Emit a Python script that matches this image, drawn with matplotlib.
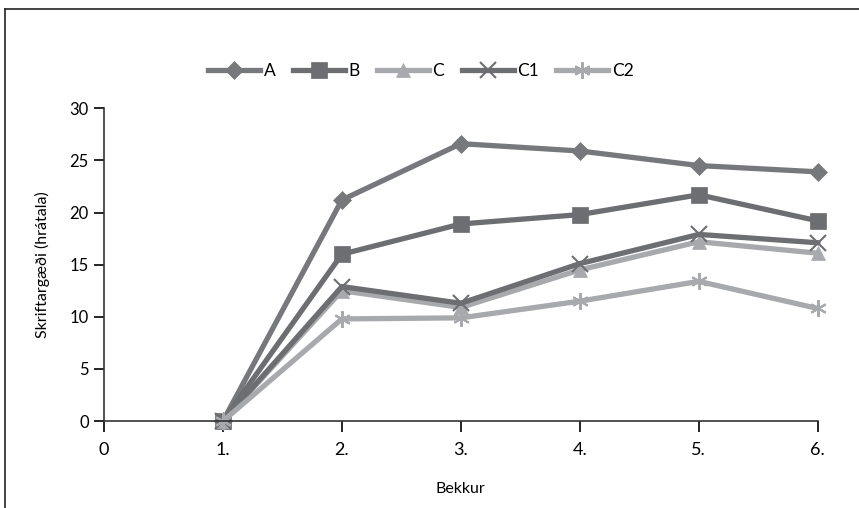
import matplotlib.pyplot as plt
from matplotlib.lines import Line2D

plt.rcParams['font.family'] = ['Lato', 'DejaVu Sans']

bekkur = [1, 2, 3, 4, 5, 6]
tick_labels = ["0", "1.", "2.", "3.", "4.", "5.", "6."]

A = [0, 21.2, 26.6, 25.9, 24.5, 23.9]
B = [0, 16.0, 18.9, 19.8, 21.7, 19.2]
C = [0, 12.5, 10.9, 14.5, 17.2, 16.1]
C1 = [0, 12.9, 11.3, 15.1, 17.9, 17.1]
C2 = [0, 9.8, 9.9, 11.5, 13.4, 10.8]

series = [
    ("A", A, "#77787b", "D", 9),
    ("B", B, "#6d6e71", "s", 11),
    ("C", C, "#a7a9ac", "^", 10),
    ("C1", C1, "#6d6e71", "x", 11),
    ("C2", C2, "#a7a9ac", (6, 2, 0), 12),
]

fig = plt.figure(figsize=(8.59, 5.08), dpi=100)
ax = fig.add_axes([0.121, 0.171, 0.831, 0.616])

for name, vals, col, mk, ms in series:
    ax.plot(bekkur, vals, color=col, lw=3.8, marker=mk, markersize=ms,
            markeredgewidth=1.5 if mk in ("x", (6, 2, 0)) else 0.5,
            markeredgecolor=col, markerfacecolor=col, label=name,
            clip_on=False, solid_joinstyle="round")

ax.set_xlim(0, 6)
ax.set_ylim(0, 30)
ax.set_xticks(range(7))
ax.set_xticklabels(tick_labels)
ax.set_yticks(range(0, 31, 5))
ax.tick_params(axis="x", direction="out", length=8, width=1.2, labelsize=13, pad=7)
ax.tick_params(axis="y", direction="out", length=7, width=1.2, labelsize=12, pad=4)
for s in ["top", "right"]:
    ax.spines[s].set_visible(False)
for s in ["left", "bottom"]:
    ax.spines[s].set_linewidth(1.2)
    ax.spines[s].set_color("#333333")

ax.set_xlabel("Bekkur", fontsize=11.5, labelpad=17)
ax.set_ylabel("Skriftargæði (hrátala)", fontsize=11.5, labelpad=14)

ax.legend(loc="center", bbox_to_anchor=(0.444, 1.12), ncol=5, frameon=False,
          fontsize=12.5, handlelength=3.0, columnspacing=1.0, handletextpad=0.2)

# outer frame (top and left)
fig.add_artist(Line2D([0.006, 1.0], [0.982, 0.982], color="#222222", lw=1.2,
                      transform=fig.transFigure))
fig.add_artist(Line2D([0.006, 0.006], [0.0, 0.982], color="#222222", lw=1.2,
                      transform=fig.transFigure))

fig.savefig("out.png", dpi=100)
